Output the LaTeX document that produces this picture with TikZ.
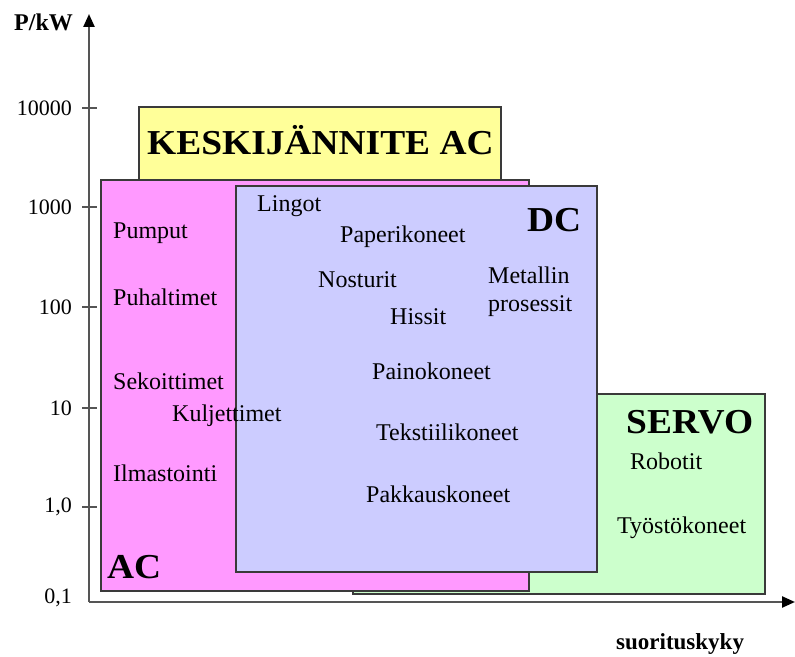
\documentclass[tikz,border=0pt]{standalone}
\usepackage{fontspec}
\setmainfont{Liberation Serif}
\newfontfamily\headfont[FakeStretch=1.07]{Liberation Serif}
\usetikzlibrary{arrows.meta}
\definecolor{cyellow}{HTML}{FFFF99}
\definecolor{cpink}{HTML}{FF99FF}
\definecolor{cblue}{HTML}{CCCCFF}
\definecolor{cgreen}{HTML}{CCFFCC}
\definecolor{cedge}{HTML}{3A3A3A}
\definecolor{caxis}{HTML}{555555}
\tikzset{
  region/.style={draw=cedge, line width=1.6pt, inner sep=0pt, anchor=south west},
  lbl/.style={inner sep=0pt, anchor=west, font=\fontsize{24}{27}\selectfont},
  head/.style={inner sep=0pt, anchor=west, font=\headfont\fontsize{35}{38}\selectfont\bfseries},
  ticklbl/.style={inner sep=0pt, anchor=east, font=\fontsize{22}{24}\selectfont},
  axisline/.style={draw=caxis, line width=2.4pt},
  tickline/.style={draw=caxis, line width=2pt},
}
\begin{document}
\begin{tikzpicture}[x=1pt,y=1pt]
\useasboundingbox (0,0) rectangle (795,656);
% regions (drawing order: yellow, green, pink, blue)
\node[region, fill=cyellow, minimum width=362pt, minimum height=75pt] (mv) at (138,473) {};
\node[region, fill=cgreen, minimum width=412pt, minimum height=200pt] (servo) at (352,61) {};
\node[region, fill=cpink, minimum width=428pt, minimum height=411pt] (ac) at (100,64) {};
\node[region, fill=cblue, minimum width=361pt, minimum height=386pt] (dc) at (235,83) {};
% axes
\coordinate (origin) at (89,54);
\coordinate (ytip) at (89,642);
\coordinate (xtip) at (795,54);
\draw[axisline, -{Triangle[length=13pt,width=11pt,color=black]}] (origin) -- (ytip);
\draw[axisline, -{Triangle[length=13pt,width=11pt,color=black]}] (origin) -- (xtip);
% ticks
\foreach \n/\y in {t4/548,t3/449,t2/349,t1/248,t0/149}{
  \coordinate (\n a) at (82,\y);
  \coordinate (\n b) at (97,\y);
  \draw[tickline] (\n a) -- (\n b);
}
\node[ticklbl] (l4) at (72,548) {10000};
\node[ticklbl] (l3) at (72,449) {1000};
\node[ticklbl] (l2) at (72,349) {100};
\node[ticklbl] (l1) at (72,248) {10};
\node[ticklbl] (l0) at (72,149) {1,0};
\node[ticklbl] (lm) at (72,58) {0,1};
% axis titles
\node[inner sep=0pt, anchor=west, font=\fontsize{24}{26}\selectfont\bfseries] (pkw) at (14,634) {P/kW};
\node[inner sep=0pt, anchor=west, font=\fontsize{23}{26}\selectfont\bfseries] (perf) at (616,12) {suorituskyky};
% headings
\node[head] (hmv) at (147,516) {KESKIJÄNNITE AC};
\node[head] (hac) at (107,89) {AC};
\node[head] (hdc) at (527,436) {DC};
\node[head] (hservo) at (626,234) {SERVO};
% AC texts
\node[lbl] (pumput) at (113,423) {Pumput};
\node[lbl] (puhal) at (113,359) {Puhaltimet};
\node[lbl] (sekoit) at (113,275) {Sekoittimet};
\node[lbl] (kulj) at (172,240) {Kuljettimet};
\node[lbl] (ilmas) at (113,183) {Ilmastointi};
% DC texts
\node[lbl] (lingot) at (257,450) {Lingot};
\node[lbl] (paperi) at (340,419) {Paperikoneet};
\node[lbl] (nostu) at (318,376) {Nosturit};
\node[lbl, align=left, font=\fontsize{24}{28}\selectfont] (metal) at (488,364) {Metallin\\prosessit};
\node[lbl] (hissit) at (390,339) {Hissit};
\node[lbl] (paino) at (372,285) {Painokoneet};
\node[lbl] (tekst) at (376,224) {Tekstiilikoneet};
\node[lbl] (pakk) at (366,162) {Pakkauskoneet};
% SERVO texts
\node[lbl] (robot) at (630,195) {Robotit};
\node[lbl] (tyost) at (617,128) {Työstökoneet};
\end{tikzpicture}
\end{document}
